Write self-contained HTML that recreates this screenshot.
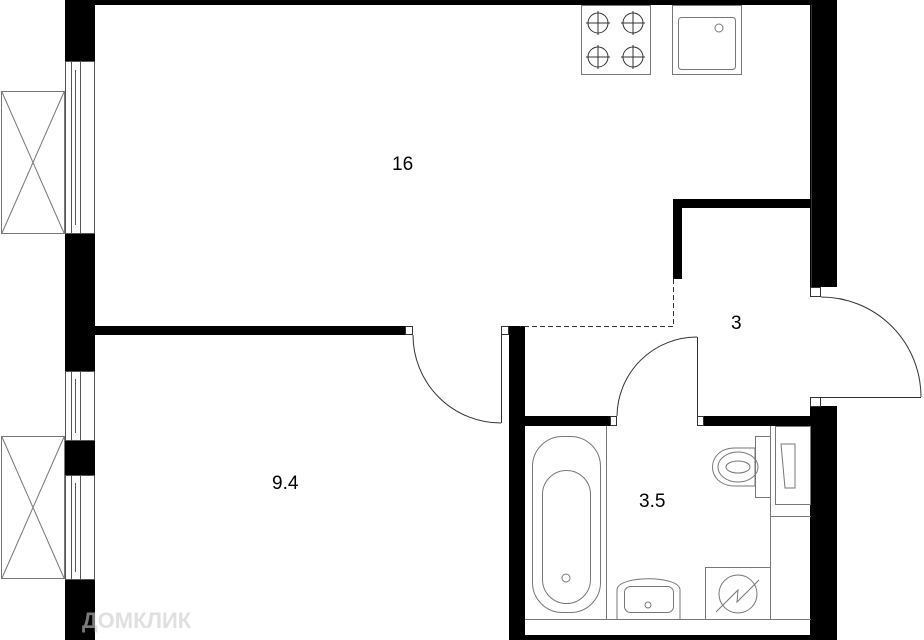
<!DOCTYPE html>
<html><head><style>
body{margin:0;background:#fff;}
svg{display:block;}
text{font-family:"Liberation Sans",sans-serif;font-size:19px;fill:#000;}
</style></head><body>
<svg width="924" height="640" viewBox="0 0 924 640" xmlns="http://www.w3.org/2000/svg">
<rect width="924" height="640" fill="#fff"/>
<!-- balconies -->
<g stroke="#777" stroke-width="1" fill="none">
<rect x="1.5" y="91.5" width="63" height="142"/>
<line x1="2" y1="92" x2="64" y2="233"/><line x1="64" y1="92" x2="2" y2="233"/>
<rect x="1.5" y="436.5" width="63" height="142"/>
<line x1="2" y1="437" x2="64" y2="578"/><line x1="64" y1="437" x2="2" y2="578"/>
</g>
<g fill="#000">
<rect x="65" y="0" width="30" height="61"/>
<rect x="65" y="233" width="30" height="138"/>
<rect x="65" y="440" width="30" height="35"/>
<rect x="65" y="579" width="30" height="61"/>
<rect x="65" y="0" width="746" height="5"/>
<rect x="95" y="326" width="310" height="9"/>
<rect x="810" y="0" width="27" height="287"/>
<rect x="810" y="406" width="27" height="234"/>
<rect x="673" y="199" width="138" height="9"/>
<rect x="673" y="199" width="9" height="80"/>
<rect x="509" y="326" width="16" height="314"/>
<rect x="525" y="416" width="85" height="10"/>
<rect x="703" y="416" width="108" height="10"/>
<rect x="509" y="635" width="302" height="5"/>
</g>
<!-- windows -->
<g stroke="#555" stroke-width="1" fill="none">
<rect x="65.5" y="61.5" width="29" height="172"/>
<rect x="71.5" y="61.5" width="9" height="172"/>
<line x1="75.5" y1="70" x2="75.5" y2="225"/>
<rect x="65.5" y="371.5" width="29" height="69"/>
<rect x="71.5" y="371.5" width="9" height="69"/>
<line x1="75.5" y1="379" x2="75.5" y2="433"/>
<rect x="65.5" y="475.5" width="29" height="104"/>
<rect x="71.5" y="475.5" width="9" height="104"/>
<line x1="75.5" y1="483" x2="75.5" y2="572"/>
</g>
<!-- doors -->
<g stroke="#333" stroke-width="1" fill="none">
<rect x="405.5" y="326.5" width="7" height="8"/>
<rect x="501.5" y="326.5" width="7" height="8"/>
<path d="M413 335 A88 88 0 0 0 501 423"/>
<line x1="501.5" y1="335" x2="501.5" y2="423"/>
<rect x="810.5" y="287.5" width="10" height="9"/>
<rect x="810.5" y="397.5" width="10" height="9"/>
<path d="M821 297 A100 100 0 0 1 921 397"/>
<line x1="821" y1="397.5" x2="921" y2="397.5"/>
<rect x="610.5" y="416.5" width="6" height="9"/>
<rect x="697.5" y="416.5" width="6" height="9"/>
<path d="M617 416 A80 80 0 0 1 697 337"/>
<line x1="697.5" y1="337" x2="697.5" y2="416"/>
<path d="M673.5 279 V326.5 H520" stroke-dasharray="5 3"/>
<line x1="811.5" y1="5" x2="811.5" y2="287"/>
</g>
<!-- kitchen -->
<g stroke="#777" stroke-width="1" fill="none">
<rect x="581.5" y="5.5" width="69" height="69"/>
<rect x="672.5" y="5.5" width="69" height="69"/>
<rect x="678.5" y="17.5" width="57" height="52" rx="3"/>
<circle cx="719" cy="28" r="4"/>
</g>
<g stroke="#333" stroke-width="1" fill="none">
<circle cx="598" cy="23" r="10"/><line x1="586" y1="23" x2="610" y2="23"/><line x1="598" y1="11" x2="598" y2="35"/>
<circle cx="633" cy="23" r="10"/><line x1="621" y1="23" x2="645" y2="23"/><line x1="633" y1="11" x2="633" y2="35"/>
<circle cx="598" cy="57" r="10"/><line x1="586" y1="57" x2="610" y2="57"/><line x1="598" y1="45" x2="598" y2="69"/>
<circle cx="633" cy="57" r="10"/><line x1="621" y1="57" x2="645" y2="57"/><line x1="633" y1="45" x2="633" y2="69"/>
</g>
<!-- bathroom -->
<g stroke="#777" stroke-width="1" fill="none">
<line x1="606.5" y1="426" x2="606.5" y2="619"/>
<line x1="525" y1="619.5" x2="811" y2="619.5"/>
<line x1="770.5" y1="426" x2="770.5" y2="619"/>
<line x1="770" y1="516.5" x2="811" y2="516.5"/>
<rect x="532.5" y="436.5" width="68" height="176" rx="30"/>
<rect x="542.5" y="470.5" width="48" height="133" rx="24"/>
<circle cx="566" cy="578" r="4"/>
<rect x="755.5" y="436.5" width="15" height="61"/>
<path d="M755 448 H735 C705 448 705 486 735 486 H755 Z"/>
<ellipse cx="738" cy="467" rx="20" ry="15"/>
<ellipse cx="738" cy="467" rx="12" ry="6"/>
<rect x="775.5" y="426.5" width="35" height="78"/>
<path d="M781 444 H795 V488 H785 Z"/>
<rect x="705.5" y="567.5" width="65" height="52"/>
<circle cx="738" cy="594" r="19"/>
<path d="M716 612 L738 590 L737 602 L759 580"/>
<path d="M617 619 V590 C617 575 680 575 680 590 V619"/>
<rect x="624.5" y="586.5" width="49" height="26" rx="6"/>
<circle cx="648" cy="605" r="3"/>
</g>
<text x="392" y="170">16</text>
<text x="272" y="489">9.4</text>
<text x="731" y="329">3</text>
<text x="639" y="507">3.5</text>
<text x="82" y="628" style="font-size:22px;font-weight:bold;fill:#ccc;opacity:.6">ДОМКЛИК</text>
</svg>
</body></html>
